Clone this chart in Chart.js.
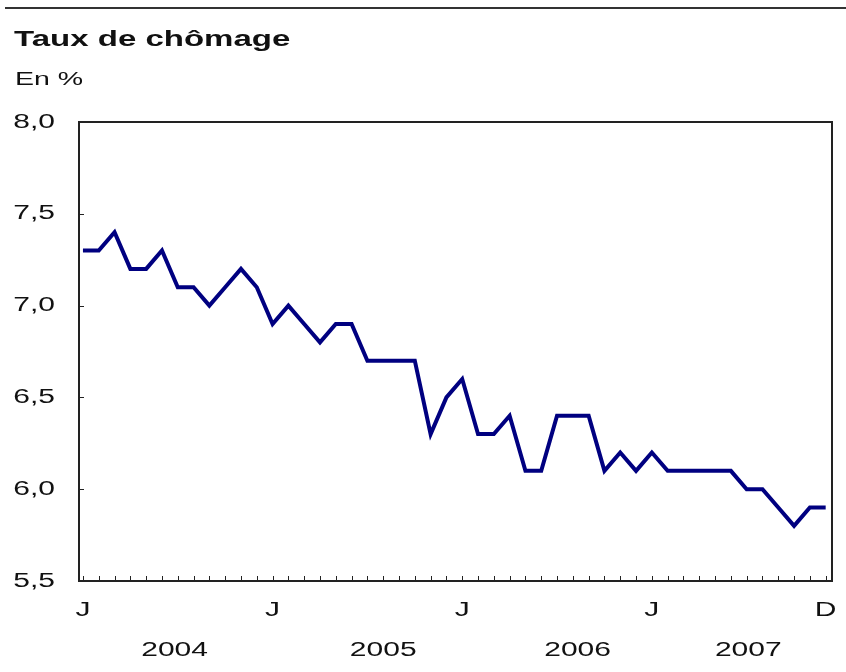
<!DOCTYPE html>
<html>
<head>
<meta charset="utf-8">
<script src="https://cdn.jsdelivr.net/npm/chart.js@4"></script>
<style>
  body { margin: 0; background: #fff; overflow: hidden; }
  #wrap { position: relative; width: 846px; height: 672px; }
  #rule { position: absolute; left: 5px; right: 0; top: 7px; height: 2px; background: #333; }
  .txt { position: absolute; white-space: nowrap; transform: scaleX(1.5); transform-origin: 0 0; color: #111; font-family: "Liberation Sans", Arial, sans-serif; }
  #title { left: 14px; top: 28px; font-size: 22px; font-weight: bold; line-height: 22px; }
  #unit { left: 15px; top: 69px; font-size: 19px; line-height: 19px; }
  canvas { display: block; }
</style>
</head>
<body>
<div id="wrap">
  <div id="rule"></div>
  <div id="title" class="txt">Taux de chômage</div>
  <div id="unit" class="txt">En %</div>
  <canvas id="taux"></canvas>
</div>
<script>
// taux mensuel, janvier 2004 a decembre 2007
var rate2004 = [7.3, 7.3, 7.4, 7.2, 7.2, 7.3, 7.1, 7.1, 7.0, 7.1, 7.2, 7.1];
var rate2005 = [6.9, 7.0, 6.9, 6.8, 6.9, 6.9, 6.7, 6.7, 6.7, 6.7, 6.3, 6.5];
var rate2006 = [6.6, 6.3, 6.3, 6.4, 6.1, 6.1, 6.4, 6.4, 6.4, 6.1, 6.2, 6.1];
var rate2007 = [6.2, 6.1, 6.1, 6.1, 6.1, 6.1, 6.0, 6.0, 5.9, 5.8, 5.9, 5.9];
var years = ['2004', '2005', '2006', '2007'];
var yearPos = [5.8, 19, 31.3, 42.1];
var yTicks = [5.5, 6.0, 6.5, 7.0, 7.5, 8.0];

var rates = rate2004.concat(rate2005, rate2006, rate2007);
var points = rates.map(function(v, i){ return {x: i, y: v}; });
var STRETCH = 1.5;
var FONT = '20px "Liberation Sans", Arial, sans-serif';

function monthLabel(i){
    if (i == 0 || i == 12 || i == 24 || i == 36) return 'J';
    if (i == 47) return 'D';
    return '';
}
function yLabel(v){
    return v.toFixed(1).replace('.', ',');
}

// texte etire horizontalement comme dans l'original
function wideText(ctx, text, px, py, align){
    ctx.save();
    ctx.translate(px, py);
    ctx.scale(STRETCH, 1);
    ctx.textAlign = align;
    ctx.fillText(text, 0, 0);
    ctx.restore();
}

var framePlugin = {
    id: 'frame',
    afterDraw: function(chart){
        var ctx = chart.ctx;
        var a = chart.chartArea;
        var x = chart.scales.x, y = chart.scales.y;
        ctx.save();
        ctx.strokeStyle = '#222';
        ctx.lineWidth = 2;
        ctx.strokeRect(a.left, a.top, a.right - a.left, a.bottom - a.top);
        ctx.lineWidth = 1;
        ctx.beginPath();
        for (var i = 0; i < rates.length; i++) {
            var px = Math.round(x.getPixelForValue(i)) + 0.5;
            ctx.moveTo(px, a.bottom);
            ctx.lineTo(px, a.bottom - 5);
        }
        yTicks.forEach(function(v){
            var py = Math.round(y.getPixelForValue(v)) + 0.5;
            ctx.moveTo(a.left, py);
            ctx.lineTo(a.left + 5, py);
        });
        ctx.stroke();

        ctx.fillStyle = '#111';
        ctx.font = FONT;
        ctx.textBaseline = 'middle';
        yTicks.forEach(function(v){
            wideText(ctx, yLabel(v), 55, y.getPixelForValue(v), 'right');
        });
        for (var j = 0; j < rates.length; j++) {
            var lab = monthLabel(j);
            if (lab) wideText(ctx, lab, x.getPixelForValue(j), 610, 'center');
        }
        years.forEach(function(yr, k){
            wideText(ctx, yr, x.getPixelForValue(yearPos[k]), 650, 'center');
        });
        ctx.restore();
    }
};

var ctx = document.getElementById('taux').getContext('2d');
var myChart = new Chart(ctx, {
    type: 'line',
    data: {
        datasets: [{
            label: 'Taux de chômage',
            data: points,
            borderColor: '#000080',
            backgroundColor: 'transparent',
            borderWidth: 4,
            pointRadius: 0,
            tension: 0
        }]
    },
    options: {
        responsive: true,
        maintainAspectRatio: false,
        animation: false,
        layout: { padding: { left: 0, top: 122, right: 14, bottom: 0 } },
        plugins: {
            legend: { display: false },
            tooltip: { enabled: false }
        },
        scales: {
            x: {
                type: 'linear',
                min: -0.25,
                max: 47.4,
                grid: { display: false, drawTicks: false },
                border: { display: false },
                afterBuildTicks: function(scale){
                    scale.ticks = rates.map(function(v, i){ return {value: i}; });
                },
                afterFit: function(scale){ scale.height = 91; },
                ticks: { display: false, callback: function(v){ return monthLabel(v); } }
            },
            y: {
                min: 5.5,
                max: 8.0,
                grid: { display: false, drawTicks: false },
                border: { display: false },
                afterBuildTicks: function(scale){
                    scale.ticks = yTicks.map(function(v){ return {value: v}; });
                },
                afterFit: function(scale){ scale.width = 79; },
                ticks: { display: false, callback: function(v){ return yLabel(v); } }
            }
        }
    },
    plugins: [framePlugin]
});
</script>
</body>
</html>
